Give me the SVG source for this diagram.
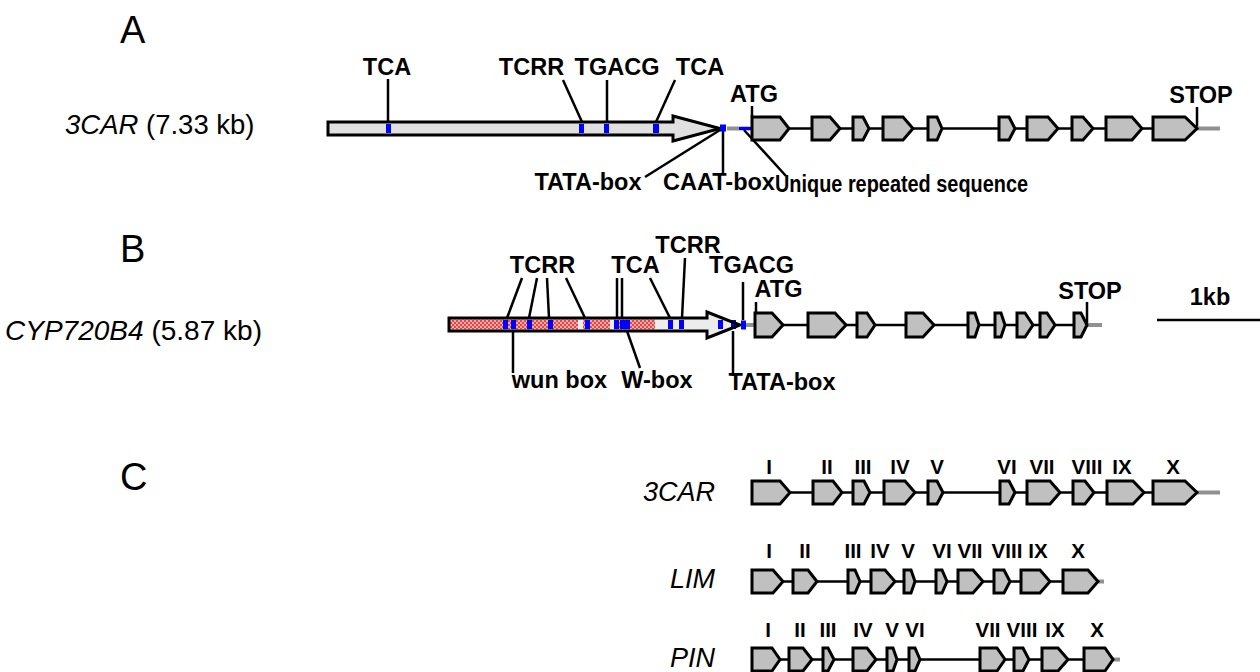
<svg xmlns="http://www.w3.org/2000/svg" width="1260" height="672" viewBox="0 0 1260 672">
<style>
.panel{font-family:"Liberation Sans",Arial,sans-serif;font-size:38px;fill:#000}
.gname{font-family:"Liberation Sans",Arial,sans-serif;font-size:27.5px;fill:#000}
.gname2{font-family:"Liberation Sans",Arial,sans-serif;font-size:27px;fill:#000}
.it{font-style:italic}
.lbl{font-family:"Liberation Sans",Arial,sans-serif;font-size:23.5px;font-weight:bold;fill:#000;text-anchor:middle}
.rom{font-family:"Liberation Sans",Arial,sans-serif;font-size:20.5px;font-weight:bold;fill:#000;text-anchor:middle}
.exon{fill:#c0c0c0;stroke:#000;stroke-width:3;stroke-linejoin:miter}
.intron{stroke:#000;stroke-width:2.5;fill:none}
.tail{stroke:#909090;stroke-width:4;fill:none}
.lead{stroke:#000;stroke-width:2.5;fill:none}
.blue{fill:#0000ff}
.prom{fill:#e0e0e0;stroke:none}
.promline{fill:none;stroke:#000;stroke-width:3}
</style>
<defs>
<pattern id="red" width="4" height="4" patternUnits="userSpaceOnUse">
<rect width="4" height="4" fill="#f4a8a8"/>
<rect width="2" height="2" fill="#e04848"/>
<rect x="2" y="2" width="2" height="2" fill="#e04848"/>
</pattern>
</defs>
<rect width="1260" height="672" fill="#fff"/>

<g id="panel-labels">
<text class="panel" x="120" y="43">A</text>
<text class="panel" x="120" y="262">B</text>
<text class="panel" x="120" y="490">C</text>
<text class="gname" x="65" y="134"><tspan class="it">3CAR</tspan> (7.33 kb)</text>
<text class="gname" x="5" y="340" textLength="257" lengthAdjust="spacingAndGlyphs"><tspan class="it">CYP720B4</tspan> (5.87 kb)</text>
<text class="gname2 it" x="715" y="501" text-anchor="end">3CAR</text>
<text class="gname2 it" x="715" y="588" text-anchor="end">LIM</text>
<text class="gname2 it" x="715" y="667" text-anchor="end">PIN</text>
</g>

<g id="connectors">
<line class="lead" x1="388" y1="79" x2="388" y2="122"/>
<line class="lead" x1="563" y1="80" x2="582" y2="122"/>
<line class="lead" x1="607" y1="80" x2="607" y2="122"/>
<line class="lead" x1="675" y1="80" x2="656" y2="122"/>
<line class="lead" x1="752" y1="106" x2="752" y2="117"/>
<line class="lead" x1="1197" y1="107" x2="1197" y2="128"/>
<line class="lead" x1="720" y1="130" x2="645" y2="177"/>
<line class="lead" x1="723" y1="131" x2="723" y2="173"/>
<line class="lead" x1="744" y1="130" x2="786" y2="176"/>
<line class="tail" x1="727" y1="128.5" x2="739" y2="128.5"/>
<line stroke="#0000ff" stroke-width="3.5" x1="739" y1="128.5" x2="751" y2="128.5"/>
<line class="intron" x1="752" y1="128.5" x2="1197" y2="128.5"/>
<line class="tail" x1="1197" y1="128.5" x2="1220" y2="128.5"/>
<line class="lead" x1="522" y1="278" x2="507" y2="318"/>
<line class="lead" x1="537" y1="278" x2="529" y2="318"/>
<line class="lead" x1="547" y1="278" x2="549" y2="318"/>
<line class="lead" x1="566" y1="278" x2="585" y2="318"/>
<line class="lead" x1="617" y1="278" x2="617" y2="318"/>
<line class="lead" x1="622" y1="278" x2="622" y2="318"/>
<line class="lead" x1="650" y1="278" x2="670" y2="318"/>
<line class="lead" x1="685" y1="258" x2="682" y2="318"/>
<line class="lead" x1="743" y1="282" x2="743" y2="320"/>
<line class="lead" x1="756" y1="302" x2="756" y2="313"/>
<line class="lead" x1="1087" y1="302" x2="1087" y2="325"/>
<line class="lead" x1="513" y1="329" x2="513" y2="373"/>
<line class="lead" x1="627" y1="331" x2="640" y2="368"/>
<line class="lead" x1="733" y1="331" x2="733" y2="376"/>
<line class="tail" x1="746" y1="325" x2="755" y2="325"/>
<line class="intron" x1="755" y1="325" x2="1087" y2="325"/>
<line class="tail" x1="1087" y1="325" x2="1102" y2="325"/>
<line class="lead" x1="1157" y1="320" x2="1260" y2="320"/>
<line class="intron" x1="752" y1="492.5" x2="1197" y2="492.5"/>
<line class="tail" x1="1197" y1="492.5" x2="1220" y2="492.5"/>
<line class="intron" x1="752" y1="581.5" x2="1098" y2="581.5"/>
<line class="tail" x1="1098" y1="581.5" x2="1104" y2="581.5"/>
<line class="intron" x1="752" y1="659.5" x2="1113" y2="659.5"/>
<line class="tail" x1="1113" y1="659.5" x2="1120" y2="659.5"/>
</g>

<g id="promoterA">
<polygon class="prom" points="328,122 673,122 673,116 720,128.5 673,141 673,135 328,135"/>
<rect class="blue" x="386" y="124" width="5" height="9"/>
<rect class="blue" x="579" y="124" width="5" height="9"/>
<rect class="blue" x="604" y="124" width="5" height="9"/>
<rect class="blue" x="653" y="124" width="6" height="9"/>
<polygon class="promline" points="328,122 673,122 673,116 720,128.5 673,141 673,135 328,135"/>
<rect class="blue" x="720" y="124.5" width="6" height="7"/>
</g>

<g id="exonsA">
<polygon class="exon" points="752,117 780,117 789,128.5 780,140 752,140"/>
<polygon class="exon" points="812,117 830,117 840,128.5 830,140 812,140"/>
<polygon class="exon" points="853,117 863,117 869,128.5 863,140 853,140"/>
<polygon class="exon" points="883,117 903,117 913,128.5 903,140 883,140"/>
<polygon class="exon" points="928,117 937,117 942,128.5 937,140 928,140"/>
<polygon class="exon" points="999,117 1009,117 1015,128.5 1009,140 999,140"/>
<polygon class="exon" points="1027,117 1048,117 1058,128.5 1048,140 1027,140"/>
<polygon class="exon" points="1072,117 1083,117 1093,128.5 1083,140 1072,140"/>
<polygon class="exon" points="1106,117 1132,117 1142,128.5 1132,140 1106,140"/>
<polygon class="exon" points="1153,117 1185,117 1197,128.5 1185,140 1153,140"/>
</g>

<g id="labelsA">
<text class="lbl" x="387" y="75">TCA</text>
<text class="lbl" x="531.5" y="75">TCRR</text>
<text class="lbl" x="617" y="75">TGACG</text>
<text class="lbl" x="700" y="75">TCA</text>
<text class="lbl" x="754" y="102">ATG</text>
<text class="lbl" x="1201" y="103">STOP</text>
<text class="lbl" x="588" y="190">TATA-box</text>
<text class="lbl" x="719" y="190">CAAT-box</text>
<text class="lbl" x="775" y="192" style="text-anchor:start" textLength="253" lengthAdjust="spacingAndGlyphs">Unique repeated sequence</text>
</g>

<g id="promoterB">
<polygon points="449,318 707,318 707,312 740,325 707,338 707,331 449,331" fill="#ececec"/>
<rect x="450" y="319.5" width="128" height="10" fill="url(#red)"/>
<rect x="583" y="319.5" width="27" height="10" fill="url(#red)"/>
<rect x="614" y="319.5" width="41" height="10" fill="url(#red)"/>
<rect class="blue" x="503" y="320" width="5" height="9"/>
<rect class="blue" x="511" y="320" width="5" height="9"/>
<rect class="blue" x="527" y="320" width="5" height="9"/>
<rect class="blue" x="548" y="320" width="5" height="9"/>
<rect class="blue" x="585" y="320" width="5" height="9"/>
<rect class="blue" x="614" y="320" width="5" height="9"/>
<rect class="blue" x="620" y="320" width="10" height="9"/>
<rect class="blue" x="668" y="320" width="5" height="9"/>
<rect class="blue" x="679" y="320" width="5" height="9"/>
<rect class="blue" x="718" y="320" width="5" height="9"/>
<rect class="blue" x="731" y="320" width="5" height="9"/>
<polygon class="promline" points="449,318 707,318 707,312 740,325 707,338 707,331 449,331"/>
<rect class="blue" x="741" y="320.5" width="5" height="9"/>
</g>

<g id="exonsB">
<polygon class="exon" points="755,313 772,313 783,325 772,337 755,337"/>
<polygon class="exon" points="808,313 835,313 846,325 835,337 808,337"/>
<polygon class="exon" points="857,313 867,313 875,325 867,337 857,337"/>
<polygon class="exon" points="906,313 923,313 934,325 923,337 906,337"/>
<polygon class="exon" points="968,313 975,313 979,325 975,337 968,337"/>
<polygon class="exon" points="995,313 1001,313 1005,325 1001,337 995,337"/>
<polygon class="exon" points="1017,313 1025,313 1033,325 1025,337 1017,337"/>
<polygon class="exon" points="1040,313 1047,313 1055,325 1047,337 1040,337"/>
<polygon class="exon" points="1074,313 1081,313 1087,325 1081,337 1074,337"/>
</g>

<g id="labelsB">
<text class="lbl" x="542.5" y="273">TCRR</text>
<text class="lbl" x="635.5" y="273">TCA</text>
<text class="lbl" x="688" y="253">TCRR</text>
<text class="lbl" x="751.5" y="273">TGACG</text>
<text class="lbl" x="778.5" y="297">ATG</text>
<text class="lbl" x="1090" y="299">STOP</text>
<text class="lbl" x="1210" y="305">1kb</text>
<text class="lbl" x="559.5" y="388">wun box</text>
<text class="lbl" x="657" y="388">W-box</text>
<text class="lbl" x="782" y="390">TATA-box</text>
</g>

<g id="row-3CAR">
<polygon class="exon" points="752,481 780,481 790,492.5 780,504 752,504"/>
<polygon class="exon" points="813,481 833,481 842,492.5 833,504 813,504"/>
<polygon class="exon" points="853,481 864,481 870,492.5 864,504 853,504"/>
<polygon class="exon" points="884,481 905,481 915,492.5 905,504 884,504"/>
<polygon class="exon" points="928,481 937,481 943,492.5 937,504 928,504"/>
<polygon class="exon" points="1000,481 1009,481 1015,492.5 1009,504 1000,504"/>
<polygon class="exon" points="1027,481 1050,481 1060,492.5 1050,504 1027,504"/>
<polygon class="exon" points="1073,481 1085,481 1094,492.5 1085,504 1073,504"/>
<polygon class="exon" points="1107,481 1133,481 1144,492.5 1133,504 1107,504"/>
<polygon class="exon" points="1153,481 1185,481 1197,492.5 1185,504 1153,504"/>
<text class="rom" x="769" y="474">I</text>
<text class="rom" x="827" y="474">II</text>
<text class="rom" x="863" y="474">III</text>
<text class="rom" x="900" y="474">IV</text>
<text class="rom" x="937" y="474">V</text>
<text class="rom" x="1007" y="474">VI</text>
<text class="rom" x="1042" y="474">VII</text>
<text class="rom" x="1087" y="474">VIII</text>
<text class="rom" x="1122" y="474">IX</text>
<text class="rom" x="1173" y="474">X</text>
</g>

<g id="row-LIM">
<polygon class="exon" points="752,570 773,570 783,581.5 773,593 752,593"/>
<polygon class="exon" points="793,570 808,570 817,581.5 808,593 793,593"/>
<polygon class="exon" points="848,570 855,570 860,581.5 855,593 848,593"/>
<polygon class="exon" points="871,570 885,570 895,581.5 885,593 871,593"/>
<polygon class="exon" points="904,570 911,570 915,581.5 911,593 904,593"/>
<polygon class="exon" points="936,570 942,570 947,581.5 942,593 936,593"/>
<polygon class="exon" points="958,570 973,570 983,581.5 973,593 958,593"/>
<polygon class="exon" points="994,570 1004,570 1010,581.5 1004,593 994,593"/>
<polygon class="exon" points="1021,570 1040,570 1050,581.5 1040,593 1021,593"/>
<polygon class="exon" points="1063,570 1088,570 1098,581.5 1088,593 1063,593"/>
<text class="rom" x="769" y="558">I</text>
<text class="rom" x="805" y="558">II</text>
<text class="rom" x="853" y="558">III</text>
<text class="rom" x="880" y="558">IV</text>
<text class="rom" x="908" y="558">V</text>
<text class="rom" x="942" y="558">VI</text>
<text class="rom" x="970" y="558">VII</text>
<text class="rom" x="1007" y="558">VIII</text>
<text class="rom" x="1038" y="558">IX</text>
<text class="rom" x="1078" y="558">X</text>
</g>

<g id="row-PIN">
<polygon class="exon" points="752,648 772,648 780,659.5 772,671 752,671"/>
<polygon class="exon" points="789,648 803,648 812,659.5 803,671 789,671"/>
<polygon class="exon" points="823,648 828,648 834,659.5 828,671 823,671"/>
<polygon class="exon" points="853,648 867,648 876,659.5 867,671 853,671"/>
<polygon class="exon" points="887,648 893,648 897,659.5 893,671 887,671"/>
<polygon class="exon" points="909,648 915,648 920,659.5 915,671 909,671"/>
<polygon class="exon" points="980,648 997,648 1005,659.5 997,671 980,671"/>
<polygon class="exon" points="1014,648 1023,648 1029,659.5 1023,671 1014,671"/>
<polygon class="exon" points="1042,648 1058,648 1068,659.5 1058,671 1042,671"/>
<polygon class="exon" points="1084,648 1105,648 1113,659.5 1105,671 1084,671"/>
<text class="rom" x="768" y="637">I</text>
<text class="rom" x="800" y="637">II</text>
<text class="rom" x="828" y="637">III</text>
<text class="rom" x="863" y="637">IV</text>
<text class="rom" x="892" y="637">V</text>
<text class="rom" x="915" y="637">VI</text>
<text class="rom" x="988" y="637">VII</text>
<text class="rom" x="1022" y="637">VIII</text>
<text class="rom" x="1055" y="637">IX</text>
<text class="rom" x="1097" y="637">X</text>
</g>
</svg>
